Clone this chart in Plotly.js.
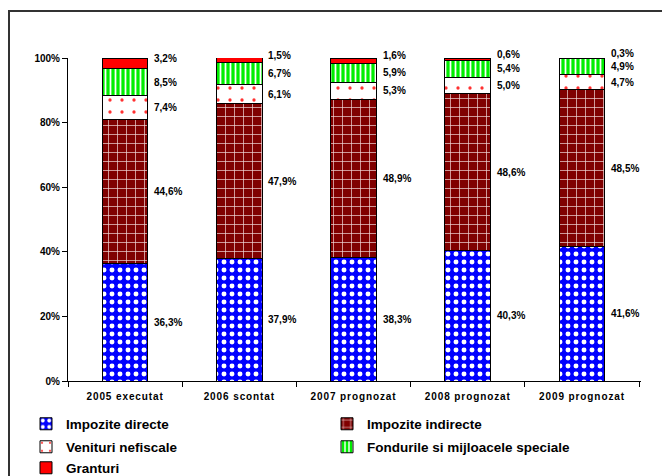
<!DOCTYPE html>
<html><head><meta charset="utf-8">
<script src="https://cdn.plot.ly/plotly-3.0.1.min.js"></script>
<style>
html,body{margin:0;padding:0;background:#fff;}
#frame{position:absolute;left:8px;top:10px;width:660px;height:470px;border-left:2px solid #333;border-top:2px solid #333;}
#chart{position:absolute;left:0;top:0;width:662px;height:476px;}
#chart .xtick text{letter-spacing:0.9px;}
</style></head>
<body>
<div id="frame"></div>
<div id="chart"></div>
<script>
var categories = ['2005 executat','2006 scontat','2007 prognozat','2008 prognozat','2009 prognozat'];
var impoziteDirecte = [36.3, 37.9, 38.3, 40.3, 41.6];
var impoziteIndirecte = [44.6, 47.9, 48.9, 48.6, 48.5];
var veniturNefiscale = [7.4, 6.1, 5.3, 5.0, 4.7];
var fondurile = [8.5, 6.7, 5.9, 5.4, 4.9];
var granturi = [3.2, 1.5, 1.6, 0.6, 0.3];
var seriesNames = ['Impozite directe','Impozite indirecte','Venituri nefiscale','Fondurile si mijloacele speciale','Granturi'];
var yTicks = [0,20,40,60,80,100];

var seriesValues = [impoziteDirecte, impoziteIndirecte, veniturNefiscale, fondurile, granturi];
var patterns = [
  {shape:'.', bgcolor:'#0000ff', fgcolor:'#ffffff', size:8, solidity:0.3, fillmode:'replace'},
  {shape:'+', bgcolor:'#800000', fgcolor:'#f0d8d8', size:9, solidity:0.15, fillmode:'replace'},
  {shape:'.', bgcolor:'#ffffff', fgcolor:'#ff3030', size:12, solidity:0.06, fillmode:'replace'},
  {shape:'|', bgcolor:'#00ee00', fgcolor:'#ffffff', size:5, solidity:0.35, fillmode:'replace'},
  {shape:'', bgcolor:'#ff0000', fgcolor:'#ff0000', fillmode:'replace'}
];
var colors = ['#0000ff','#800000','#ffffff','#00ee00','#ff0000'];
var legendIds = ['legend','legend2','legend3','legend4','legend5'];
// legend grid: column text starts and row centres (px)
var legendCol = [0,1,0,1,0];
var legendRow = [0,0,1,1,2];
var colTextX = [67, 368];
var rowY = [424, 447, 468];
var labelYShift = [0,0,0,0,5];

var traces = seriesValues.map(function(vals,i){
  return {
    type:'bar', x:categories, y:vals, name:seriesNames[i], legend:legendIds[i],
    marker:{color:colors[i], pattern:patterns[i], line:{color:'#000', width:1}},
    hoverinfo:'skip'
  };
});

var annotations = [];
var base = categories.map(function(){return 0;});
seriesValues.forEach(function(vals,i){
  vals.forEach(function(v,j){
    annotations.push({
      xref:'x', yref:'y', x:categories[j], y:base[j]+v/2,
      text:v.toFixed(1).replace('.',',')+'%', showarrow:false,
      xanchor:'left', yanchor:'middle', xshift:27, yshift:labelYShift[i],
      font:{family:'Liberation Sans, Arial', size:10, color:'#000', weight:'bold'}
    });
    base[j]+=v;
  });
});

var layout = {
  width:662, height:476,
  margin:{l:68, r:21, t:58, b:95, autoexpand:false},
  paper_bgcolor:'rgba(0,0,0,0)', plot_bgcolor:'rgba(0,0,0,0)',
  barmode:'stack', bargap:0.6,
  font:{family:'Liberation Sans, Arial', size:10, color:'#000'},
  xaxis:{type:'category', showline:true, linecolor:'#000', linewidth:1, ticks:'outside', ticklen:5, tickcolor:'#000',
         tickson:'boundaries', ticklabelstandoff:6, tickfont:{size:10, weight:'bold'}, showgrid:false, zeroline:false},
  yaxis:{range:[0,100], tickvals:yTicks, ticktext:yTicks.map(function(t){return t+'%';}),
         showline:true, linecolor:'#000', linewidth:1, ticks:'outside', ticklen:5, tickcolor:'#000',
         tickfont:{size:10, weight:'bold'}, showgrid:false, zeroline:false},
  showlegend:true,
  annotations:annotations
};
legendIds.forEach(function(id,i){
  layout[id] = {orientation:'h', xref:'container', yref:'container',
    x:(colTextX[legendCol[i]]-41)/662, xanchor:'left',
    y:1-rowY[legendRow[i]]/476, yanchor:'middle',
    font:{family:'Liberation Sans, Arial', size:13.5, weight:'bold', color:'#000'},
    bgcolor:'rgba(0,0,0,0)'};
});
Plotly.newPlot('chart', traces, layout, {displayModeBar:false, staticPlot:true});
</script>
</body></html>
